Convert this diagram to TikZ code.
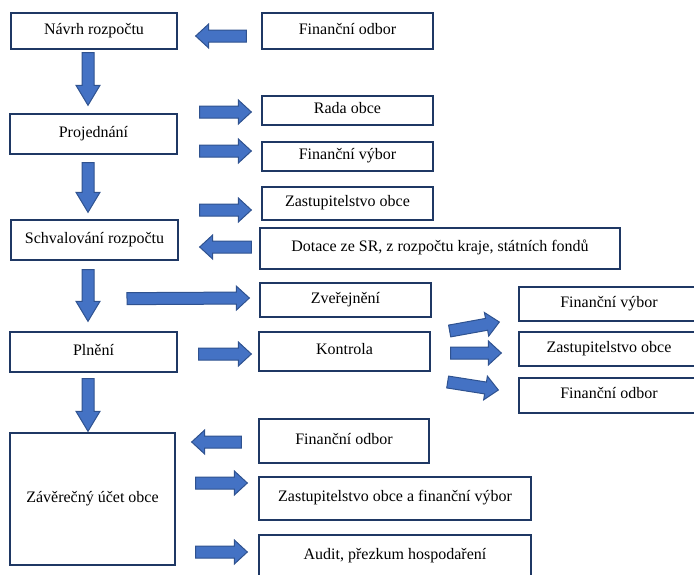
\documentclass[tikz,border=0pt]{standalone}
\usepackage{fontspec}
\setmainfont{Liberation Serif}
\usetikzlibrary{calc}

\definecolor{boxline}{HTML}{1F3864}
\definecolor{arrowfill}{HTML}{4472C4}
\definecolor{arrowline}{HTML}{2F528F}

% block arrow between two points, optional head length
\newcommand{\barrow}[3][13pt]{%
  \path[block arrow] let \p1=(#2), \p2=(#3), \p3=($(\p2)!#1!(\p1)$) in
    ($(\p1)!6pt!-90:(\p2)$) -- ($(\p3)!6pt!-90:(\p2)$) -- ($(\p3)!12pt!-90:(\p2)$)
    -- (\p2) -- ($(\p3)!12pt!90:(\p2)$) -- ($(\p3)!6pt!90:(\p2)$)
    -- ($(\p1)!6pt!90:(\p2)$) -- cycle;}

\begin{document}
\begin{tikzpicture}[x=1pt,y=-1pt,
	box/.style = {draw=boxline, fill=white, line width=1.3pt, inner sep=0pt,
		text height=11pt, text depth=5pt, font=\fontsize{16}{19}\selectfont},
	block arrow/.style = {draw=arrowline, fill=arrowfill, line width=1pt, line join=miter}]
	
	\useasboundingbox (0,0) rectangle (694,574);
	
	\node[box, minimum width=166pt, minimum height=36pt] (1) at (94,31) {Návrh rozpočtu};
	\node[box, minimum width=171pt, minimum height=36pt] (2) at (347.5,31) {Finanční odbor};
	\node[box, minimum width=167pt, minimum height=40pt] (3) at (93.5,134) {Projednání};
	\node[box, minimum width=171pt, minimum height=29pt] (4) at (347.5,110.5) {Rada obce};
	\node[box, minimum width=171pt, minimum height=29pt] (5) at (347.5,156.5) {Finanční výbor};
	\node[box, minimum width=171pt, minimum height=33pt] (6) at (347.5,203.5) {Zastupitelstvo obce};
	\node[box, minimum width=167pt, minimum height=40pt] (7) at (94.5,240) {Schvalování rozpočtu};
	\node[box, minimum width=360pt, minimum height=41pt] (8) at (440,248.5) {Dotace ze SR, z rozpočtu kraje, státních fondů};
	\node[box, minimum width=171pt, minimum height=34pt] (9) at (345.5,300) {Zveřejnění};
	\node[box, minimum width=167pt, minimum height=40pt] (10) at (93.5,352) {Plnění};
	\node[box, minimum width=171pt, minimum height=39pt] (11) at (344.5,351.5) {Kontrola};
	\node[box, minimum width=180pt, minimum height=34pt] (12) at (609,304) {Finanční výbor};
	\node[box, minimum width=180pt, minimum height=34pt] (13) at (609,349) {Zastupitelstvo obce};
	\node[box, minimum width=180pt, minimum height=35pt] (14) at (609,395.5) {Finanční odbor};
	\node[box, minimum width=165pt, minimum height=132pt] (15) at (92.5,499) {Závěrečný účet obce};
	\node[box, minimum width=170pt, minimum height=44pt] (16) at (344,441) {Finanční odbor};
	\node[box, minimum width=272pt, minimum height=43pt] (17) at (395,498.5) {Zastupitelstvo obce a finanční výbor};
	\node[box, minimum width=272pt, minimum height=43pt] (18) at (395,556.5) {Audit, přezkum hospodaření};
	
	\barrow{[shift={(-15pt,-5pt)}]2.west}{[shift={(18pt,-5pt)}]1.east}
	\barrow[20pt]{[shift={(-6pt,-3pt)}]1.south}{[shift={(-5.5pt,8pt)}]3.north}
	\barrow{[shift={(22pt,22pt)}]3.east}{[shift={(-10pt,-1.5pt)}]4.west}
	\barrow{[shift={(22pt,-17pt)}]3.east}{[shift={(-10pt,5.5pt)}]5.west}
	\barrow[20pt]{[shift={(-5.5pt,-8pt)}]3.south}{[shift={(-6.5pt,7pt)}]7.north}
	\barrow{[shift={(21pt,30pt)}]7.east}{[shift={(-10pt,-6.5pt)}]6.west}
	\barrow{[shift={(-8pt,1.5pt)}]8.west}{[shift={(21pt,-7pt)}]7.east}
	\barrow[20pt]{[shift={(-6.5pt,-9pt)}]7.south}{[shift={(-5.5pt,10pt)}]10.north}
	\barrow{[shift={(32.5pt,-38pt)}]7.south}{[shift={(-10pt,2pt)}]9.west}
	\barrow{[shift={(21pt,-2pt)}]10.east}{[shift={(-7pt,-2.5pt)}]11.west}
	\barrow{[shift={(19pt,20.5pt)}]11.east}{[shift={(-19pt,-18pt)}]12.west}
	\barrow{[shift={(20pt,-1.5pt)}]11.east}{[shift={(-17pt,-4pt)}]13.west}
	\barrow{[shift={(17pt,-30.5pt)}]11.east}{[shift={(-20pt,5.5pt)}]14.west}
	\barrow[20pt]{[shift={(-5.5pt,-6pt)}]10.south}{[shift={(-4.5pt,1pt)}]15.north}
	\barrow{[shift={(-17pt,-1pt)}]16.west}{[shift={(16pt,57pt)}]15.east}
	\barrow{[shift={(20pt,16pt)}]15.east}{[shift={(-11pt,15.5pt)}]17.west}
	\barrow{[shift={(20pt,-53pt)}]15.east}{[shift={(-11pt,4.5pt)}]18.west}
	
\end{tikzpicture}
\end{document}
